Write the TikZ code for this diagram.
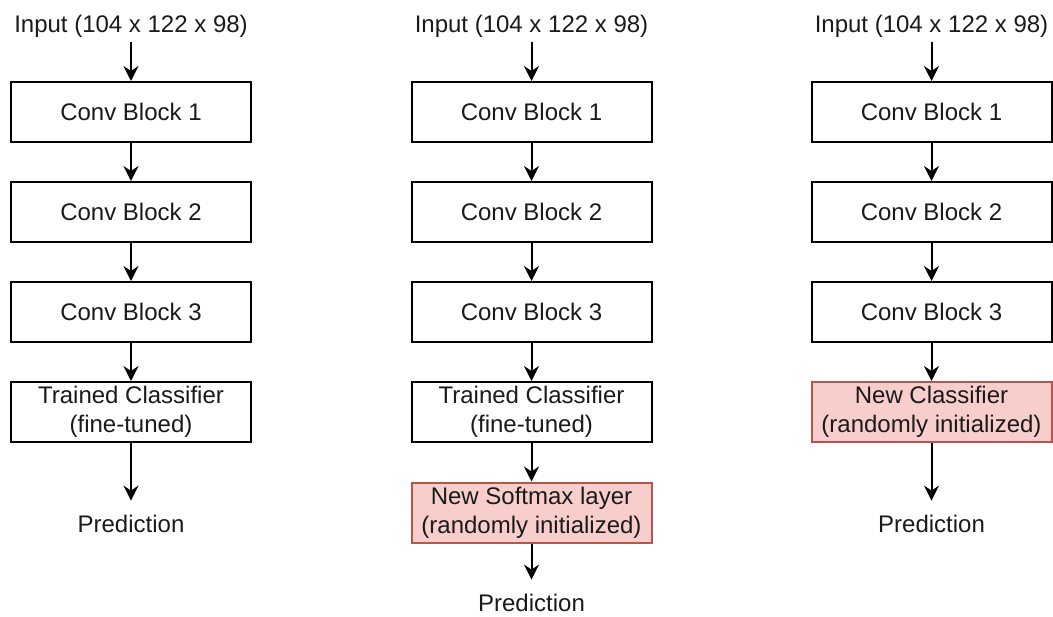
\documentclass[tikz,border=0pt]{standalone}
\usepackage{fontspec}
\setmainfont{Liberation Sans}
\usetikzlibrary{arrows.meta}
\definecolor{newfill}{HTML}{F8CECC}
\definecolor{newline}{HTML}{B85450}
\definecolor{ink}{HTML}{1A1A1A}
\begin{document}
\begin{tikzpicture}[x=0.5pt,y=-0.5pt,
  font=\fontsize{12}{14.4}\selectfont,
  block/.style={draw=black, line width=1pt, fill=white, text=ink,
    minimum width=120pt, minimum height=30pt, inner sep=0pt, align=center},
  newblock/.style={block, draw=newline, fill=newfill},
  txt/.style={inner xsep=0pt, inner ysep=2pt, text height=9pt, text depth=3pt,
    anchor=base, text=ink},
  flow/.style={-{Stealth[length=7.5pt,width=7.5pt,inset=2.5pt]}, line width=1pt},
  topred/.style={flow, shorten >=4.5pt}
]
\useasboundingbox (0,0) rectangle (1053,616);

% Column 1: fine-tuned classifier
\node[txt]   (a0) at (131,32)  {Input (104 x 122 x 98)};
\node[block] (a1) at (131,112) {Conv Block 1};
\node[block] (a2) at (131,212) {Conv Block 2};
\node[block] (a3) at (131,312) {Conv Block 3};
\node[block] (a4) at (131,412) {Trained Classifier\\(fine-tuned)};
\node[txt]   (a5) at (131,532) {Prediction};
\draw[flow] (a0) -- (a1);
\draw[flow] (a1) -- (a2);
\draw[flow] (a2) -- (a3);
\draw[flow] (a3) -- (a4);
\draw[topred] (a4) -- (a5);

% Column 2: fine-tuned classifier plus new softmax layer
\node[txt]   (b0) at (531.5,32)  {Input (104 x 122 x 98)};
\node[block] (b1) at (531.5,112) {Conv Block 1};
\node[block] (b2) at (531.5,212) {Conv Block 2};
\node[block] (b3) at (531.5,312) {Conv Block 3};
\node[block] (b4) at (531.5,412) {Trained Classifier\\(fine-tuned)};
\node[newblock] (b5) at (531.5,512.5) {New Softmax layer\\(randomly initialized)};
\node[txt]   (b6) at (531.5,611) {Prediction};
\draw[flow] (b0) -- (b1);
\draw[flow] (b1) -- (b2);
\draw[flow] (b2) -- (b3);
\draw[flow] (b3) -- (b4);
\draw[flow] (b4) -- (b5);
\draw[topred] (b5) -- (b6);

% Column 3: new classifier
\node[txt]   (c0) at (931.5,32)  {Input (104 x 122 x 98)};
\node[block] (c1) at (931.5,112) {Conv Block 1};
\node[block] (c2) at (931.5,212) {Conv Block 2};
\node[block] (c3) at (931.5,312) {Conv Block 3};
\node[newblock] (c4) at (931.5,412) {New Classifier\\(randomly initialized)};
\node[txt]   (c5) at (931.5,532) {Prediction};
\draw[flow] (c0) -- (c1);
\draw[flow] (c1) -- (c2);
\draw[flow] (c2) -- (c3);
\draw[flow] (c3) -- (c4);
\draw[topred] (c4) -- (c5);
\end{tikzpicture}
\end{document}
